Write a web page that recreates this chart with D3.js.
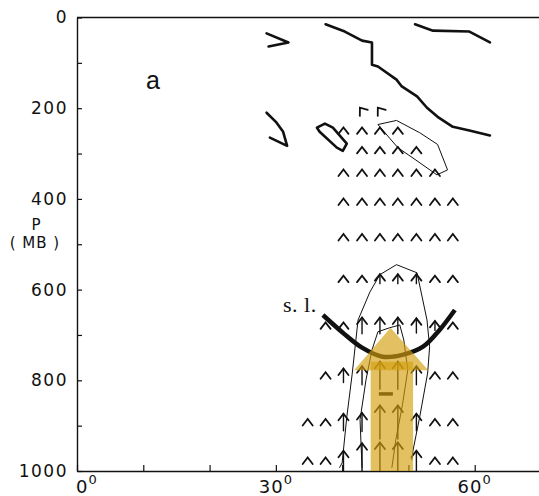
<!DOCTYPE html>
<html>
<head>
<meta charset="utf-8">
<script src="https://cdn.jsdelivr.net/npm/d3@7"></script>
<style>
  html, body { margin: 0; padding: 0; background: #fff; }
  svg { display: block; }
</style>
</head>
<body>
<svg id="chart" width="539" height="496"></svg>
<script>
// ---------------- DATA ----------------
// Pressure levels (mb) of the vector rows, latitudes (deg) of the columns
const levels = [205, 250, 293, 343, 407, 485, 577, 680, 790, 893, 978];
const lats = [34.8, 37.5, 40.2, 43.0, 45.7, 48.4, 51.2, 54.0, 56.7];
// Relative vertical-motion magnitude at each grid point (null = no vector)
const wGrid = [
  [null, null, null, 0, 0, null, null, null, null],
  [null, null, 0, 0, 0, 0, null, null, null],
  [null, null, null, 0, 0, 0, 0, null, null],
  [null, null, 0, 0, 0, 0, 0, 0, null],
  [null, null, 0, 0, 0, 0, 0, 0, 0],
  [null, null, 0, 0, 0, 0, 0, 0, 0],
  [null, null, 0, 0, 0.1, 0.1, 0.1, 0, 0],
  [null, 0, 0, 0.33, 0.33, 0.33, 0.27, 0.1, 0],
  [null, 0, 0.25, 0.4, 0.7, 0.7, 0.4, 0, 0],
  [0, 0, 0.35, 0.4, 0.9, 0.9, 0.35, 0, 0],
  [0, 0, 0.45, 0.95, 1.0, 1.0, 0.45, 0, 0]
];
// Vector direction (deg from vertical) per row
const rowDirection = [-37, 0, 0, 0, 0, 0, 0, 0, 0, 0, 0];

// Y-axis ticks (mb) and X-axis ticks (deg)
const yTicks = d3.range(0, 1001, 100);
const yLabels = [0, 200, 400, 600, 800, 1000];
const xTicks = d3.range(0, 71, 10);
const xLabels = [0, 30, 60];

// Thick contour segments [lat, p]
const thick1 = [[37.5,15],[40.4,31],[43.0,51],[44.5,55],[44.5,104],[45.4,108],[48.2,137],[49.0,152],[51.3,174],[52.8,199],[54.4,219],[56.7,241],[59.2,249],[62.3,260]];
const thick2 = [[51.0,15],[53.7,29],[59.2,31],[62.3,55]];
const thick3 = [[28.6,35],[31.9,55],[28.9,64]];
const thick4 = [[28.6,210],[30.0,230],[31.1,252],[31.7,283],[29.1,265]];
const thick5 = [[36.2,243],[37.4,234],[38.6,243],[40.7,278],[40.1,294],[39.2,287],[36.6,252],[36.2,243]];
// Thin contours [lat, p]
const thinA = [[45.4,236],[48.2,227],[51.7,254],[54.4,280],[55.9,336],[54.3,347],[51.0,313],[48.4,287],[45.4,236]];
const thinB = [[39.6,993],[40.0,982],[40.7,881],[41.5,788],[42.4,667],[44.2,605],[45.7,567],[48.2,545],[51.3,563],[52.8,667],[53.2,726],[52.9,784],[51.7,881],[50.7,954],[50.5,976]];
const thinC = [[43.0,993],[42.7,887],[43.6,799],[44.5,733],[45.4,693],[47.2,684],[48.7,678],[49.3,711],[49.9,777],[49.1,854],[48.1,931],[47.5,993]];
// Steering level arc [lat, p]
const slArc = [[37.1,656],[40.1,695],[43.0,728],[46.1,748],[49.1,744],[52.2,726],[54.7,689],[57.0,645]];
// Big yellow arrow (lat, p)
const bigShaftLat = [44.3, 50.7];
const bigShaftP = [759, 1000];
const bigHead = [[41.8,778],[47.3,684],[53.0,778]];
// Minus sign location (lat, p)
const minusAt = [46.6, 830];

// ---------------- DRAW ----------------
const svg = d3.select("#chart");
const W = 539, H = 496;
const x = d3.scaleLinear().domain([0, 70]).range([77, 541]);
const y = d3.scaleLinear().domain([0, 1000]).range([17.5, 471]);
const wScale = d3.scaleLinear().domain([0, 1]).range([0, 30]);

const fontAxis = "'DejaVu Sans', sans-serif";

// top border
svg.append("line")
  .attr("x1", x(0)).attr("x2", W).attr("y1", y(0)).attr("y2", y(0))
  .attr("stroke", "#111").attr("stroke-width", 1.4);

// Y axis
const yAxis = d3.axisLeft(y).tickValues(yTicks).tickSizeInner(-5).tickSizeOuter(0).tickPadding(9)
  .tickFormat(d => yLabels.includes(d) ? String(d) : "");
const gy = svg.append("g").attr("transform", `translate(${x(0)},0)`).call(yAxis);
gy.select(".domain").attr("stroke", "#111").attr("stroke-width", 1.4);
gy.selectAll(".tick line").attr("stroke", "#111").attr("stroke-width", 1.2);
gy.selectAll(".tick text").attr("font-family", fontAxis).attr("font-size", 17)
  .attr("fill", "#111").attr("letter-spacing", 1.5);

// X axis
const xAxis = d3.axisBottom(x).tickValues(xTicks).tickSizeInner(-6).tickSizeOuter(0).tickPadding(0)
  .tickFormat(() => "");
const gx = svg.append("g").attr("transform", `translate(0,${y(1000)})`).call(xAxis);
gx.select(".domain").attr("stroke", "#111").attr("stroke-width", 1.4);
gx.selectAll(".tick line").attr("stroke", "#111").attr("stroke-width", 1.2);
gx.selectAll(".tick text").remove();
xLabels.forEach((v, i) => {
  const t = svg.append("text")
    .attr("x", x(v) + (i === 0 ? -1 : 0))
    .attr("y", 493)
    .attr("text-anchor", i === 0 ? "start" : "middle")
    .attr("font-family", fontAxis).attr("font-size", 18).attr("fill", "#111")
    .attr("letter-spacing", 1);
  t.append("tspan").text(String(v));
  t.append("tspan").attr("font-size", 13).attr("dy", -9).text("0");
});

// axis title
svg.append("text").attr("x", 36).attr("y", 230).attr("text-anchor", "middle")
  .attr("font-family", fontAxis).attr("font-size", 15).attr("fill", "#111").text("P");
svg.append("text").attr("x", 35).attr("y", 248).attr("text-anchor", "middle")
  .attr("font-family", fontAxis).attr("font-size", 15).attr("fill", "#111")
  .attr("letter-spacing", 1).text("( MB )");

// panel label
svg.append("text").attr("x", 146).attr("y", 89)
  .attr("font-family", "'Liberation Sans', Arial, sans-serif").attr("font-size", 25)
  .attr("fill", "#111").text("a");

const line = d3.line().x(d => x(d[0])).y(d => y(d[1]));

// thin contours
[thinA, thinB, thinC].forEach(c => {
  svg.append("path").attr("d", line(c)).attr("fill", "none")
    .attr("stroke", "#111").attr("stroke-width", 1).attr("stroke-linejoin", "round");
});
// thick contours
[thick1, thick2, thick3, thick4, thick5].forEach(c => {
  svg.append("path").attr("d", line(c)).attr("fill", "none")
    .attr("stroke", "#111").attr("stroke-width", 2.6)
    .attr("stroke-linejoin", "round").attr("stroke-linecap", "round");
});

// vectors
const vecs = [];
levels.forEach((p, i) => lats.forEach((la, j) => {
  const w = wGrid[i][j];
  if (w !== null) vecs.push({ p, la, w, dir: rowDirection[i] });
}));
const gv = svg.append("g")
  .attr("stroke", "#111").attr("stroke-width", 1.8).attr("fill", "none")
  .attr("stroke-linecap", "round").attr("stroke-linejoin", "miter");
vecs.forEach(v => {
  const cx = x(v.la), cy = y(v.p);
  const L = wScale(v.w);
  const tip = cy - L / 2 - 3.5;
  const g = gv.append("g").attr("transform", `rotate(${v.dir},${cx},${cy})`);
  g.append("path").attr("d", `M${cx - 5},${tip + 6.5}L${cx},${tip}L${cx + 5},${tip + 6.5}`);
  if (L > 0) {
    const tail = Math.min(cy + L / 2 + 3, y(1000));
    g.append("line").attr("x1", cx).attr("x2", cx).attr("y1", tip).attr("y2", tail)
      .attr("stroke-width", 1.4);
  }
});

// minus sign
svg.append("line")
  .attr("x1", x(minusAt[0]) - 7).attr("x2", x(minusAt[0]) + 7)
  .attr("y1", y(minusAt[1])).attr("y2", y(minusAt[1]))
  .attr("stroke", "#111").attr("stroke-width", 3.5);

// steering level arc
svg.append("path").attr("d", line.curve(d3.curveCatmullRom)(slArc))
  .attr("fill", "none").attr("stroke", "#111").attr("stroke-width", 4.5).attr("stroke-linecap", "butt");
line.curve(d3.curveLinear);
svg.append("text").attr("x", 283).attr("y", 312)
  .attr("font-family", "'Liberation Serif', 'Times New Roman', serif")
  .attr("font-size", 22).attr("letter-spacing", 0.5).attr("fill", "#111").text("s. l.");

// big yellow arrow
const yellow = "#d4a010";
svg.append("rect")
  .attr("x", x(bigShaftLat[0])).attr("width", x(bigShaftLat[1]) - x(bigShaftLat[0]))
  .attr("y", y(bigShaftP[0])).attr("height", y(bigShaftP[1]) - y(bigShaftP[0]))
  .attr("fill", yellow).attr("opacity", 0.65);
svg.append("path").attr("d", d3.line().x(d => x(d[0])).y(d => y(d[1]))(bigHead) + "Z")
  .attr("fill", yellow).attr("opacity", 0.65);
</script>
</body>
</html>
